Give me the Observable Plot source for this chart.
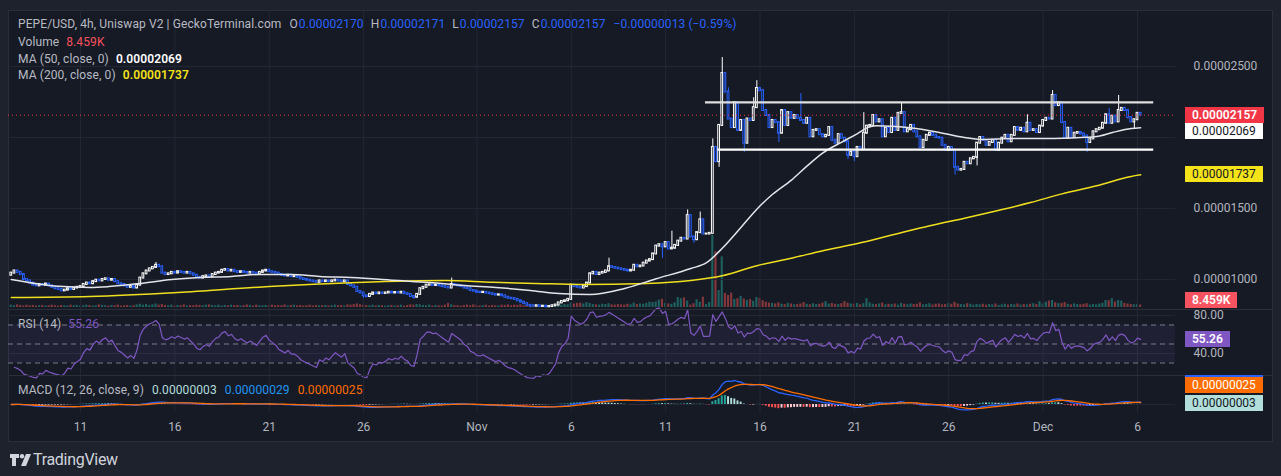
<!DOCTYPE html>
<html>
<head>
<meta charset="utf-8">
<script src="https://cdn.jsdelivr.net/npm/d3@7"></script>
<script src="https://cdn.jsdelivr.net/npm/@observablehq/plot@0.6"></script>
<style>
html, body { margin:0; padding:0; background:#1e222d; }
#root { position:relative; width:1281px; height:476px; overflow:hidden; background:#1e222d; font-family: Roboto, "Noto Sans", sans-serif; }
#frame { position:absolute; left:8px; top:10px; width:1265px; height:432px; box-sizing:border-box; background:#161a25; border:1px solid #2a2e39; }
.sep { position:absolute; left:8px; width:1265px; height:1px; background:#2a2e39; }
.txt { position:absolute; white-space:nowrap; font-size:12px; letter-spacing:0.1px; line-height:16px; color:#b8bbc3; }
.badge { position:absolute; left:1185px; height:16px; line-height:16px; font-size:12px; padding:0 7px; box-sizing:border-box; white-space:nowrap; }
</style>
</head>
<body>
<div id="root"><div id="frame"></div></div>
<script>
// ---------------- DATA (prices in units of 0.00000001) ----------------
const firstCandle = "2023-10-07T08:00:00Z";   // 4h candles
const firstOpen = 1030;
const closes = [
1045,1060,1050,1035,1000,990,975,960,955,965,
960,968,955,945,935,930,920,925,935,930,
940,945,950,965,975,970,985,995,990,1000,
1005,995,1000,985,970,965,955,945,950,940,
960,1010,1040,1060,1075,1085,1100,1090,1045,1035,
1040,1050,1045,1055,1050,1045,1050,1040,1030,1015,
1010,1020,1025,1020,1035,1045,1050,1065,1070,1060,
1065,1055,1050,1055,1050,1045,1050,1045,1040,1050,
1060,1065,1055,1050,1045,1035,1030,1025,1030,1020,
1020,1015,1005,1000,995,990,985,980,990,985,
990,985,990,995,990,985,990,965,955,945,
915,905,885,880,895,905,900,905,902,905,
910,905,908,905,910,900,895,880,875,895,
935,945,960,962,958,960,955,950,945,940,
965,960,955,950,940,935,922,918,910,908,
910,905,900,895,890,892,885,875,868,865,
860,850,840,830,818,815,812,815,810,812,
808,810,815,820,835,845,850,860,960,950,
945,940,950,975,1040,1050,1035,1045,1050,1060,
1090,1085,1080,1075,1070,1065,1060,1065,1100,1090,
1095,1115,1130,1140,1180,1235,1245,1230,1260,1215,
1220,1240,1270,1290,1285,1450,1300,1280,1330,1420,
1320,1320,1325,1930,1830,2085,2450,2320,2130,2070,
2245,2050,2120,1960,2130,2120,2210,2345,2330,2190,
2155,2070,2120,2105,2030,2190,2085,2175,2135,2155,
2135,2120,2100,2135,2005,2050,2055,2020,2005,2015,
2070,1980,1960,2020,1995,1970,1875,1895,1865,1930,
1915,2030,2080,2085,2155,2110,2125,2005,2065,2035,
2135,2050,2170,2175,2040,2055,2085,2040,2005,1930,
1980,2015,2030,2015,2000,1995,1945,1910,1930,1910,
1790,1770,1775,1825,1815,1850,1860,1960,2000,1980,
1945,1965,1980,1910,1960,1995,2015,1970,2015,2070,
2050,2065,2040,2100,2050,2055,2035,2080,2120,2135,
2130,2296,2225,2245,2105,1995,2065,2000,2030,2035,
2025,2010,1965,1990,2040,2055,2065,2100,2160,2100,
2150,2110,2190,2205,2190,2140,2110,2125,2170,2157
];
const volumesK = [
8,6,9,7,5,8,6,7,5,6,
7,5,6,8,6,5,7,6,5,8,
6,7,5,6,8,7,5,6,9,7,
6,5,7,6,8,5,6,7,5,6,
9,11,8,10,7,9,12,8,10,7,
6,8,5,7,6,9,5,7,6,8,
7,6,8,9,7,6,8,5,7,6,
8,6,7,5,6,9,7,5,8,6,
6,7,5,8,6,7,6,9,5,7,
8,6,7,5,6,8,5,7,6,6,
7,5,6,8,6,7,5,9,8,10,
12,9,8,7,6,8,5,7,6,5,
6,7,5,6,8,5,7,9,8,10,
9,7,6,8,5,7,6,5,8,14,
9,7,6,5,7,8,6,9,7,5,
6,8,5,7,6,5,8,7,9,6,
8,7,9,6,5,7,6,5,6,7,
5,6,7,8,9,8,10,9,16,12,
14,15,12,17,14,10,9,8,11,10,
13,9,8,10,9,8,11,9,15,10,
12,11,14,18,17,19,25,28,14,12,
11,16,34,30,33,22,8,13,26,18,
35,10,17,245,190,58,172,48,41,49,
27,30,38,29,24,27,21,34,31,23,
18,15,14,12,16,11,10,14,12,9,
10,12,17,11,9,13,10,11,15,20,
12,14,11,10,13,20,15,12,11,14,
9,13,30,16,11,10,12,15,9,11,
10,12,8,14,11,9,12,10,11,16,
9,10,13,8,11,12,9,10,14,11,
18,12,10,9,13,11,8,10,9,11,
8,10,9,12,7,9,11,8,10,9,
12,8,10,9,11,13,10,20,12,18,
22,24,16,13,14,17,11,9,12,10,
9,11,13,8,10,9,12,14,24,23,
30,19,24,22,14,12,10,9,11,8.459
];
const wickHighIdx = [46,140,190,210,215,219,223,226,228,236,237,251,271,283,323,331,349,352,359];
const wickHighVal = [1120,1010,1150,1340,1490,1475,1990,2563,2350,2280,2400,2310,2175,2245,2160,2330,2205,2296,2171];
const wickLowIdx = [112,128,165,207,217,225,233,244,266,268,300,307,342,357];
const wickLowVal = [866,860,800,1150,1255,1790,1895,1965,1845,1830,1735,1800,1895,2060];

const ma50Dates = ["2023-10-07T08","2023-10-09T20","2023-10-11T12","2023-10-12T12","2023-10-14T04","2023-10-15T20","2023-10-17T08","2023-10-19T00","2023-10-20T12","2023-10-22T04","2023-10-23T16","2023-10-25T08","2023-10-27T20","2023-10-29T12","2023-10-31T08","2023-11-02T00","2023-11-03T20","2023-11-05T08","2023-11-07T00","2023-11-08T20","2023-11-10T12","2023-11-12T08","2023-11-13T04","2023-11-14T00","2023-11-15T00","2023-11-15T20","2023-11-16T16","2023-11-17T16","2023-11-18T12","2023-11-19T08","2023-11-20T08","2023-11-21T04","2023-11-21T16","2023-11-22T04","2023-11-23T20","2023-11-25T12","2023-11-26T20","2023-11-27T16","2023-11-29T12","2023-12-01T04","2023-12-03T00","2023-12-03T20","2023-12-04T16","2023-12-05T16","2023-12-06T04"];
const ma50Vals = [1000,952,944,950,972,1000,1014,1021,1035,1035,1021,1014,993,979,958,944,923,901,894,937,1005,1077,1118,1220,1368,1495,1600,1700,1800,1892,1968,2028,2068,2083,2070,2036,2000,1986,1993,1993,2000,2007,2035,2063,2069];
const ma200Dates = ["2023-10-07T08","2023-10-11T12","2023-10-16T04","2023-10-21T00","2023-10-25T16","2023-10-30T08","2023-11-01T20","2023-11-04T04","2023-11-06T12","2023-11-10T00","2023-11-12T08","2023-11-14T00","2023-11-15T20","2023-11-17T16","2023-11-19T08","2023-11-21T04","2023-11-22T20","2023-11-25T00","2023-11-26T20","2023-11-28T12","2023-11-30T08","2023-12-02T00","2023-12-03T20","2023-12-05T16","2023-12-06T04"];
const ma200Vals = [873,880,908,951,979,993,980,972,965,972,993,1026,1097,1150,1203,1254,1308,1379,1432,1483,1542,1603,1660,1726,1737];

const levelStart = ["2023-11-13T02:00Z","2023-11-13T18:00Z"];
const levelEnd = ["2023-12-06T20:00Z","2023-12-06T20:00Z"];
const levelPrice = [2247,1915];

const tickDates = ["2023-10-11","2023-10-16","2023-10-21","2023-10-26","2023-11-01","2023-11-06","2023-11-11","2023-11-16","2023-11-21","2023-11-26","2023-12-01","2023-12-06"];
const tickLabels = ["11","16","21","26","Nov","6","11","16","21","26","Dec","6"];
const priceTicks = [1000,1500,2500];
const priceGrid = [1000,1500,2000,2500];
const rsiBand = [30,70];
const rsiLevels = [70,50,30];
const rsiTicks = [80,40];

const headerTitle = "PEPE/USD, 4h, Uniswap V2 | GeckoTerminal.com";
const ohlcLetters = ["O","H","L","C"];
const ohlcValues = ["0.00002170","0.00002171","0.00002157","0.00002157"];
const changeText = "\u22120.00000013 (\u22120.59%)";
const volumeText = "8.459K";
const ma50Text = "0.00002069", ma200Text = "0.00001737";
const rsiText = "55.26";
const macdTexts = ["0.00000003","0.00000029","0.00000025"]; // hist, macd, signal

// ---------------- BUILD ----------------
const HOUR = 36e5;
const t0 = Date.parse(firstCandle);
const candles = closes.map((c, i) => {
  const o = i === 0 ? firstOpen : closes[i - 1];
  const hi = wickHighIdx.indexOf(i), lo = wickLowIdx.indexOf(i);
  return {
    t: new Date(t0 + i * 4 * HOUR), o, c,
    h: Math.max(o, c, hi >= 0 ? wickHighVal[hi] : -Infinity),
    l: Math.min(o, c, lo >= 0 ? wickLowVal[lo] : Infinity),
    v: volumesK[i], up: c >= o
  };
});
const ma50 = ma50Dates.map((d, i) => ({t: new Date(d + ":00:00Z"), v: ma50Vals[i]}));
const ma200 = ma200Dates.map((d, i) => ({t: new Date(d + ":00:00Z"), v: ma200Vals[i]}));
const levels = levelPrice.map((p, i) => ({s: new Date(levelStart[i]), e: new Date(levelEnd[i]), p}));
const tickD = tickDates.map(d => new Date(d + "T00:00:00Z"));

// RSI (14, Wilder)
function computeRSI(v, n) {
  const out = [];
  let ag = 0, al = 0;
  for (let i = 1; i <= n; i++) { const ch = v[i] - v[i - 1]; ag += Math.max(ch, 0) / n; al += Math.max(-ch, 0) / n; }
  for (let i = 1; i < v.length; i++) {
    const ch = v[i] - v[i - 1];
    ag = (ag * (n - 1) + Math.max(ch, 0)) / n;
    al = (al * (n - 1) + Math.max(-ch, 0)) / n;
    out.push({t: candles[i].t, r: al === 0 ? 100 : 100 - 100 / (1 + ag / al)});
  }
  return out;
}
const rsi = computeRSI(closes, 14);
// MACD (12, 26, 9)
function ema(arr, n) { const a = 2 / (n + 1); let e = arr[0]; return arr.map(x => (e = e + a * (x - e))); }
const e12 = ema(closes, 12), e26 = ema(closes, 26);
const macdLine = e12.map((v, i) => v - e26[i]);
const signal = ema(macdLine, 9);
const macd = candles.map((d, i) => ({t: d.t, m: macdLine[i], s: signal[i], h: macdLine[i] - signal[i]}));
macd.forEach((d, i) => {
  const prev = i > 0 ? macd[i - 1].h : 0;
  d.col = d.h >= 0 ? (d.h > prev ? "#26a69a" : "#b2dfdb") : (d.h > prev ? "#ffcdd2" : "#ff5252");
});

// ---------------- LAYOUT ----------------
const root = document.getElementById("root");
const X_DOMAIN = [new Date("2023-10-07T04:27:00Z"), new Date("2023-12-08T00:19:00Z")];
const C = {bg: "#161a25", grid: "#232735", up: "#ffffff", down: "#2962ff", ma50: "#e3e5ea", ma200: "#f0df1e", red: "#f23645", text: "#b2b5be"};
const x1 = d => new Date(+d.t - 2 * HOUR), x2 = d => new Date(+d.t + 2 * HOUR);

function pane(top, height, y, marks) {
  const svg = Plot.plot({
    width: 1265, height, marginLeft: 0, marginRight: 98, marginTop: 0, marginBottom: 0,
    x: {type: "utc", domain: X_DOMAIN, axis: null}, y, color: {type: "identity"},
    style: {background: "transparent", color: C.text, fontFamily: "Roboto, sans-serif", fontSize: "12px", overflow: "visible"},
    marks
  });
  svg.style.position = "absolute"; svg.style.left = "8px"; svg.style.top = top + "px";
  root.appendChild(svg);
  return svg;
}
const fmt8 = v => (v * 1e-8).toFixed(8);

// Volume overlay (bottom of the main pane)
const volTop = 235, volH = 72;
const volPlot = pane(volTop, volH, {domain: [0, d3.max(volumesK)], axis: null}, [
  Plot.rectY(candles, {x1, x2, y: "v", fill: d => d.up ? "#26a69a" : "#ef5350", fillOpacity: 0.5, insetLeft: 0.5, insetRight: 0.5})
]);

// Main price pane
const mainTop = 10, mainH = 299;
const mainPlot = pane(mainTop, mainH, {domain: [788.7, 2894.4]}, [
  Plot.ruleY(priceGrid, {stroke: C.grid}),
  Plot.ruleX(tickD, {stroke: C.grid}),
  Plot.ruleX(candles, {x: "t", y1: "l", y2: "h", stroke: d => d.up ? C.up : C.down, strokeWidth: 1}),
  Plot.rect(candles, {x1, x2, y1: "o", y2: "c", fill: C.bg, stroke: d => d.up ? C.up : C.down, strokeWidth: 1, insetLeft: 0.7, insetRight: 0.7, insetTop: -0.5, insetBottom: -0.5}),
  Plot.line(ma200, {x: "t", y: "v", stroke: C.ma200, strokeWidth: 1.5, curve: "monotone-x"}),
  Plot.line(ma50, {x: "t", y: "v", stroke: C.ma50, strokeWidth: 1.5, curve: "monotone-x"}),
  Plot.ruleY([closes[closes.length - 1]], {stroke: C.red, strokeDasharray: "1,3"}),
  Plot.link(levels, {x1: "s", x2: "e", y1: "p", y2: "p", stroke: (d, i) => i === 0 ? "#dedede" : "#ffffff", strokeWidth: 2.2}),
  Plot.axisY(priceTicks, {anchor: "right", label: null, tickSize: 0, tickPadding: 18, tickFormat: fmt8, fontSize: 12, fill: C.text})
]);

// RSI pane
const rsiTop = 309, rsiH = 66;
const rsiPlot = pane(rsiTop, rsiH, {domain: [16.84, 86.32]}, [
  Plot.ruleX(tickD, {stroke: C.grid}),
  Plot.ruleY(rsiTicks, {stroke: C.grid}),
  Plot.rect([rsiBand], {x1: [X_DOMAIN[0]], x2: [X_DOMAIN[1]], y1: d => d[0], y2: d => d[1], fill: "#7e57c2", fillOpacity: 0.1}),
  Plot.ruleY(rsiLevels, {stroke: "#787b86", strokeDasharray: "5,4"}),
  Plot.line(rsi, {x: "t", y: "r", stroke: "#7e57c2", strokeWidth: 1.2}),
  Plot.axisY(rsiTicks, {anchor: "right", label: null, tickSize: 0, tickPadding: 18, tickFormat: v => v.toFixed(2), fontSize: 12, fill: C.text})
]);

// MACD pane
const macdTop = 376, macdH = 36;
const peak = d3.max(macd, d => Math.max(d.m, d.s));
const kpx = 24 / peak;
const macdPlot = pane(macdTop, macdH, {domain: [-8 / kpx, 28 / kpx], axis: null}, [
  Plot.ruleX(tickD, {stroke: C.grid}),
  Plot.ruleY([0], {stroke: C.grid}),
  Plot.rectY(macd, {x1, x2, y: "h", fill: "col", insetLeft: 0.6, insetRight: 0.6}),
  Plot.line(macd, {x: "t", y: "m", stroke: "#2962ff", strokeWidth: 1.3}),
  Plot.line(macd, {x: "t", y: "s", stroke: "#ff6d00", strokeWidth: 1.3})
]);

// Time axis
pane(413, 28, {axis: null, domain: [0, 1]}, [
  Plot.text(tickD, {x: d => d, text: (d, i) => tickLabels[i], frameAnchor: "middle", fontSize: 12, fill: C.text})
]);

// pane separators
[309, 375].forEach(y => { const s = document.createElement("div"); s.className = "sep"; s.style.top = y + "px"; root.appendChild(s); });

// ---------------- TEXT OVERLAYS ----------------
function txt(str, left, top, color, extra) {
  const s = document.createElement("div"); s.className = "txt"; s.textContent = str;
  s.style.left = left + "px"; s.style.top = top + "px"; if (color) s.style.color = color;
  if (extra) Object.assign(s.style, extra); root.appendChild(s); return s;
}
function labelLine(label, value, top, valColor, weight) {
  const s = txt(label, 18, top);
  const v = document.createElement("span"); v.textContent = value; v.style.color = valColor; v.style.marginLeft = "7px";
  if (weight) v.style.fontWeight = weight; s.appendChild(v); return s;
}
// first header line flows inline so nothing overlaps
(() => {
  const s = txt(headerTitle, 18, 16);
  ohlcLetters.forEach((L, i) => {
    const g = document.createElement("span"); g.style.marginLeft = i === 0 ? "8px" : "7px"; g.textContent = L;
    const v = document.createElement("span"); v.textContent = ohlcValues[i]; v.style.color = "#2962ff"; v.style.marginLeft = "1px";
    g.appendChild(v); s.appendChild(g);
  });
  const ch = document.createElement("span"); ch.textContent = changeText; ch.style.color = "#2962ff"; ch.style.marginLeft = "8px";
  s.appendChild(ch);
})();
labelLine("Volume", volumeText, 34, "#f7525f");
labelLine("MA (50, close, 0)", ma50Text, 51, "#ffffff", "600");
labelLine("MA (200, close, 0)", ma200Text, 67, "#f5e31a", "600");
labelLine("RSI (14)", rsiText, 316, "#7e57c2");
(() => {
  const s = txt("MACD (12, 26, close, 9)", 18, 382);
  [[macdTexts[0], "#b2dfdb"], [macdTexts[1], "#2196f3"], [macdTexts[2], "#ff6d00"]].forEach(([t, c]) => {
    const v = document.createElement("span"); v.textContent = t; v.style.color = c; v.style.marginLeft = "8px"; s.appendChild(v);
  });
})();

// badges on the right scale
function badge(text, yc, bg, fg, weight) {
  const b = document.createElement("div"); b.className = "badge"; b.textContent = text;
  b.style.top = (yc - 8) + "px"; b.style.background = bg; b.style.color = fg;
  if (weight) b.style.fontWeight = weight; root.appendChild(b); return b;
}
const ys = mainPlot.scale("y");
const yClose = mainTop + ys.apply(closes[closes.length - 1]);
const yMa50 = Math.max(mainTop + ys.apply(ma50Vals[ma50Vals.length - 1]), yClose + 16.5);
const yMa200 = mainTop + ys.apply(ma200Vals[ma200Vals.length - 1]);
badge(fmt8(closes[closes.length - 1]), yClose, C.red, "#ffffff", "600");
badge(ma50Text, yMa50, "#ffffff", "#131722");
badge(ma200Text, yMa200, "#f5e31a", "#131722");
const yVol = Math.min(volTop + volPlot.scale("y").apply(volumesK[volumesK.length - 1]), rsiTop - 9);
badge(volumeText, yVol, "#f7525f", "#ffffff", "600");
badge(rsiText, rsiTop + rsiPlot.scale("y").apply(+rsiText), "#7e57c2", "#ffffff", "600");
const ms = macdPlot.scale("y");
const yHist = Math.min(macdTop + ms.apply(macd[macd.length - 1].h), macdTop + macdH - 9);
// MACD-line badge sits almost entirely behind the signal badge (only a thin strip shows)
badge(macdTexts[1], yHist - 20, "#2962ff", "#2962ff");
badge(macdTexts[2], yHist - 18, "#ff6d00", "#ffffff");
badge(macdTexts[0], yHist, "#b2dfdb", "#131722");

// TradingView logo
const logo = document.createElementNS("http://www.w3.org/2000/svg", "svg");
logo.setAttribute("width", "24"); logo.setAttribute("height", "14");
Object.assign(logo.style, {position: "absolute", left: "10px", top: "454px"});
logo.innerHTML = '<path d="M0 0h9v4H6v8H2V4H0z" fill="#d1d4dc"/><circle cx="12" cy="2.2" r="2.2" fill="#d1d4dc"/><path d="M16 0h5l-5 12h-5z" fill="#d1d4dc"/>';
root.appendChild(logo);
txt("TradingView", 33, 451, "#d1d4dc", {fontSize: "16px", lineHeight: "18px", letterSpacing: "-0.3px", fontFamily: "'Liberation Sans Narrow', Roboto, sans-serif"});
</script>
</body>
</html>
